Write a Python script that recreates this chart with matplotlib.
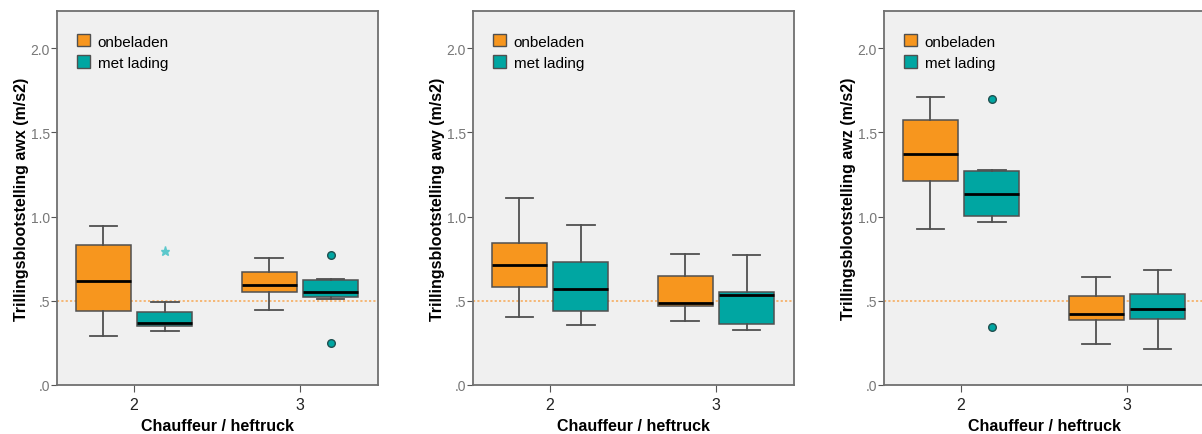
import matplotlib
matplotlib.use("Agg")
import matplotlib.pyplot as plt
from matplotlib.patches import Patch

plt.rcParams['font.family'] = ['Liberation Sans', 'DejaVu Sans']

groups = ["2", "3"]
series = ["onbeladen", "met lading"]
colors = ["#f7961e", "#00a6a2"]

# five-number summaries per group: [whislo, q1, med, q3, whishi]
awx_onbeladen = [[0.288, 0.440, 0.614, 0.830, 0.943], [0.442, 0.549, 0.591, 0.668, 0.751]]
awx_lading = [[0.319, 0.351, 0.368, 0.434, 0.493], [0.507, 0.519, 0.553, 0.620, 0.627]]
awx_outliers = [[], [0.771, 0.248]]
awx_extremes = [[0.793], []]

awy_onbeladen = [[0.400, 0.579, 0.709, 0.840, 1.113], [0.380, 0.469, 0.487, 0.648, 0.778]]
awy_lading = [[0.353, 0.440, 0.570, 0.727, 0.949], [0.327, 0.361, 0.531, 0.549, 0.771]]
awy_outliers = [[], []]
awy_extremes = [[], []]

awz_onbeladen = [[0.923, 1.212, 1.369, 1.573, 1.709], [0.244, 0.386, 0.420, 0.525, 0.638]]
awz_lading = [[0.969, 1.006, 1.135, 1.270, 1.274], [0.212, 0.389, 0.448, 0.537, 0.682]]
awz_outliers = [[1.698, 0.343], []]
awz_extremes = [[], []]

ylabels = ["Trillingsblootstelling awx (m/s2)",
           "Trillingsblootstelling awy (m/s2)",
           "Trillingsblootstelling awz (m/s2)"]
panels = [
    (awx_onbeladen, awx_lading, awx_outliers, awx_extremes),
    (awy_onbeladen, awy_lading, awy_outliers, awy_extremes),
    (awz_onbeladen, awz_lading, awz_outliers, awz_extremes),
]
lefts = [0.0474, 0.3935, 0.7354]

fig = plt.figure(figsize=(12.02, 4.35), dpi=100)

offset = 0.185
width = 0.333

for p, (onb, lad, outl, extr) in enumerate(panels):
    ax = fig.add_axes([lefts[p], 0.1133, 0.267, 0.859])
    ax.set_facecolor("#f0f0f0")
    ax.axhline(0.5, color="#f6b36c", lw=1.3, ls=(0, (1.2, 1.2)), zorder=1)

    for s, data in enumerate([onb, lad]):
        for g, vals in enumerate(data):
            lo, q1, med, q3, hi = vals
            stats = [dict(whislo=lo, q1=q1, med=med, q3=q3, whishi=hi,
                          fliers=outl[g] if s == 1 else [])]
            pos = g + (-offset if s == 0 else offset)
            ax.bxp(stats, positions=[pos], widths=width, patch_artist=True,
                   showfliers=True, manage_ticks=False,
                   boxprops=dict(facecolor=colors[s], edgecolor="#505050", lw=1.1),
                   whiskerprops=dict(color="#505050", lw=1.3),
                   capprops=dict(color="#505050", lw=1.3),
                   capwidths=width / 2,
                   medianprops=dict(color="black", lw=2.0),
                   flierprops=dict(marker="o", markerfacecolor=colors[1],
                                   markeredgecolor="#205050", markersize=5.5))
            if s == 1 and extr[g]:
                ax.plot([pos] * len(extr[g]), extr[g], ls="none", marker="*",
                        color="#5cc8cc", markersize=6.5, zorder=4)

    ax.set_xlim(-0.465, 1.47)
    ax.set_ylim(0, 2.222)
    ax.set_xticks([0, 1])
    ax.set_xticklabels(groups, fontsize=11.5, color="#222222")
    ax.set_yticks([0, 0.5, 1.0, 1.5, 2.0])
    ax.set_yticklabels([".0", ".5", "1.0", "1.5", "2.0"], fontsize=10, color="#777777")
    ax.tick_params(axis="y", length=4, color="#555555", pad=1)
    ax.tick_params(axis="x", length=5, color="#555555", pad=4)
    for sp in ax.spines.values():
        sp.set_color("#707070")
        sp.set_linewidth(1.3)
    ax.set_xlabel("Chauffeur / heftruck", fontsize=11.5, fontweight="bold", labelpad=4)
    ax.set_ylabel(ylabels[p], fontsize=11.5, fontweight="bold", labelpad=1)

    handles = [Patch(facecolor=colors[i], edgecolor="#505050", label=series[i]) for i in range(2)]
    ax.legend(handles=handles, loc="upper left", frameon=False, fontsize=11,
              handlelength=0.85, handleheight=0.85, handletextpad=0.5,
              labelspacing=0.45, bbox_to_anchor=(0.02, 0.975))

fig.savefig("out.png", dpi=100)
